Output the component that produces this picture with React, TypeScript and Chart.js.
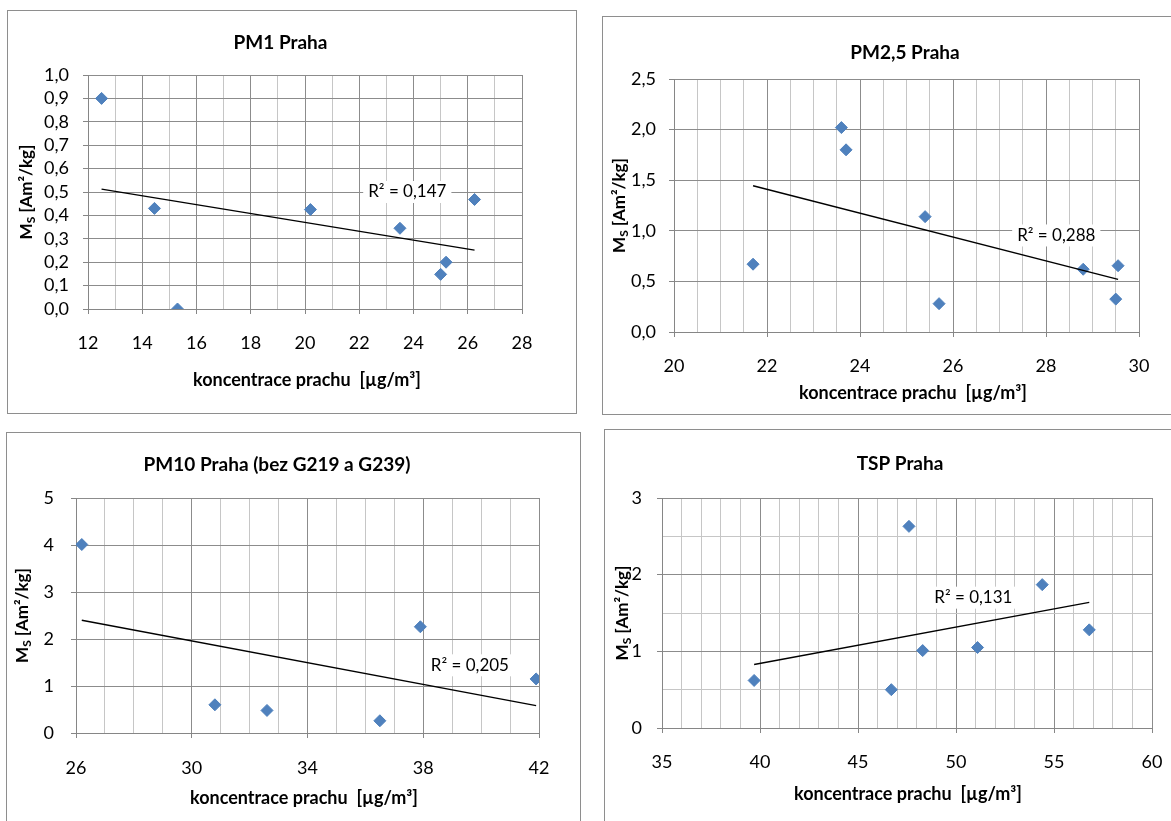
import React, { useEffect, useRef } from 'react';
import { Chart, registerables } from 'chart.js';

Chart.register(...registerables);

// Measured pairs: dust concentration [µg/m³] vs. saturation magnetisation Ms [Am²/kg]
const pm1Conc = [12.5, 14.45, 15.3, 20.2, 23.5, 25.0, 25.2, 26.25];
const pm1Ms = [0.9, 0.43, 0.0, 0.425, 0.345, 0.148, 0.2, 0.468];

const pm25Conc = [21.7, 23.6, 23.7, 25.4, 25.7, 28.8, 29.55, 29.5];
const pm25Ms = [0.67, 2.02, 1.8, 1.14, 0.28, 0.62, 0.655, 0.325];

const pm10Conc = [26.2, 30.8, 32.6, 36.5, 37.9, 41.9];
const pm10Ms = [4.01, 0.6, 0.48, 0.26, 2.26, 1.15];

const tspConc = [39.7, 46.7, 47.6, 48.3, 51.1, 54.4, 56.8];
const tspMs = [0.62, 0.5, 2.63, 1.01, 1.05, 1.87, 1.28];

const chartTitles = ['PM1 Praha', 'PM2,5 Praha', 'PM10 Praha (bez G219 a G239)', 'TSP Praha'];
const r2Labels = ['R² = 0,147', 'R² = 0,288', 'R² = 0,205', 'R² = 0,131'];
const xAxisTitle = 'koncentrace prachu  [µg/m³]';
const yAxisMain = 'M';
const yAxisSub = 'S';
const yAxisRest = ' [Am²/kg]';

const FONT = "Lato, 'Open Sans', sans-serif";
const MARKER = '#4f81bd';
const GRID_MAJOR = '#8c8c8c';
const GRID_MINOR = '#c6c6c6';
const AXIS = '#868686';
const FRAME = '#8e8e8e';

type AxisSpec = { min: number; max: number; step: number; every: number; dec: number; pad: number };
type Panel = {
  title: string;
  r2: string;
  xs: number[];
  ys: number[];
  box: { left: number; top: number; w: number; h: number };
  area: { yW: number; top: number; right: number; xH: number };
  x: AxisSpec;
  y: AxisSpec;
  titleAt: [number, number];
  xTitleAt: [number, number];
  yTitleX: number;
  r2At: [number, number];
};

const panels: Panel[] = [
  {
    title: chartTitles[0], r2: r2Labels[0], xs: pm1Conc, ys: pm1Ms,
    box: { left: 7, top: 10, w: 570, h: 404 },
    area: { yW: 81, top: 65, right: 55, xH: 105 },
    x: { min: 12, max: 28, step: 1, every: 2, dec: 0, pad: 18 },
    y: { min: 0, max: 1, step: 0.1, every: 0.1, dec: 1, pad: 14 },
    titleAt: [273.5, 33], xTitleAt: [300, 370], yTitleX: 19, r2At: [22.33, 0.5],
  },
  {
    title: chartTitles[1], r2: r2Labels[1], xs: pm25Conc, ys: pm25Ms,
    box: { left: 602, top: 16, w: 600, h: 399 },
    area: { yW: 72, top: 63, right: 63, xH: 83 },
    x: { min: 20, max: 30, step: 0.5, every: 2, dec: 0, pad: 18 },
    y: { min: 0, max: 2.5, step: 0.5, every: 0.5, dec: 1, pad: 13 },
    titleAt: [303, 37], xTitleAt: [311, 377], yTitleX: 17, r2At: [27.38, 0.954],
  },
  {
    title: chartTitles[2], r2: r2Labels[2], xs: pm10Conc, ys: pm10Ms,
    box: { left: 6, top: 432, w: 575, h: 400 },
    area: { yW: 70, top: 66, right: 42, xH: 99 },
    x: { min: 26, max: 42, step: 1, every: 4, dec: 0, pad: 19 },
    y: { min: 0, max: 5, step: 1, every: 1, dec: 0, pad: 17 },
    titleAt: [271, 33], xTitleAt: [298, 366], yTitleX: 16, r2At: [38.26, 1.44],
  },
  {
    title: chartTitles[3], r2: r2Labels[3], xs: tspConc, ys: tspMs,
    box: { left: 604, top: 429, w: 600, h: 400 },
    area: { yW: 58, top: 69, right: 52, xH: 101 },
    x: { min: 35, max: 60, step: 1, every: 5, dec: 0, pad: 18 },
    y: { min: 0, max: 3, step: 0.5, every: 1, dec: 0, pad: 15 },
    titleAt: [296, 35], xTitleAt: [304, 365], yTitleX: 18, r2At: [48.89, 1.7],
  },
];

// Least-squares line across the measured x range
function linearFit(xs: number[], ys: number[]) {
  const n = xs.length;
  const mx = xs.reduce((a, b) => a + b, 0) / n;
  const my = ys.reduce((a, b) => a + b, 0) / n;
  let sxy = 0;
  let sxx = 0;
  for (let i = 0; i < n; i++) {
    sxy += (xs[i] - mx) * (ys[i] - my);
    sxx += (xs[i] - mx) * (xs[i] - mx);
  }
  const b = sxy / sxx;
  const a = my - b * mx;
  const x0 = Math.min(...xs);
  const x1 = Math.max(...xs);
  return [
    { x: x0, y: a + b * x0 },
    { x: x1, y: a + b * x1 },
  ];
}

// Major ticks are counted from the axis minimum
const isMajor = (v: number, spec: AxisSpec) => {
  const k = (v - spec.min) / spec.every;
  return Math.abs(k - Math.round(k)) < 1e-6;
};

function axisOptions(spec: AxisSpec, isX: boolean, fixed: number) {
  return {
    type: 'linear' as const,
    position: isX ? 'bottom' : 'left',
    min: spec.min,
    max: spec.max,
    ticks: {
      stepSize: spec.step,
      autoSkip: false,
      maxRotation: 0,
      padding: spec.pad,
      color: '#000',
      font: { family: FONT, size: 18 },
      callback: (v: number) => (isMajor(v, spec) ? v.toFixed(spec.dec).replace('.', ',') : ''),
    },
    grid: {
      lineWidth: 1,
      tickLength: 5,
      color: (c: any) => (c.tick && isMajor(c.tick.value, spec) ? GRID_MAJOR : GRID_MINOR),
      tickColor: (c: any) => (c.tick && isMajor(c.tick.value, spec) ? AXIS : 'rgba(0,0,0,0)'),
    },
    border: { color: AXIS, width: 1 },
    afterFit: (scale: any) => {
      if (isX) scale.height = fixed;
      else scale.width = fixed;
    },
  };
}

function drawYTitle(ctx: CanvasRenderingContext2D, x: number, cy: number) {
  const big = `bold 17px ${FONT}`;
  const small = `bold 12px ${FONT}`;
  ctx.save();
  ctx.translate(x, cy);
  ctx.rotate(-Math.PI / 2);
  ctx.fillStyle = '#000';
  ctx.textAlign = 'left';
  ctx.textBaseline = 'alphabetic';
  ctx.font = big;
  const wM = ctx.measureText(yAxisMain).width;
  const wRest = ctx.measureText(yAxisRest).width;
  ctx.font = small;
  const wS = ctx.measureText(yAxisSub).width;
  let px = -(wM + wS + wRest) / 2;
  ctx.font = big;
  ctx.fillText(yAxisMain, px, 6);
  px += wM;
  ctx.font = small;
  ctx.fillText(yAxisSub, px, 9);
  px += wS;
  ctx.font = big;
  ctx.fillText(yAxisRest, px, 6);
  ctx.restore();
}

function makeDecor(p: Panel) {
  return {
    id: 'decor',
    beforeDraw(chart: any) {
      const { ctx, width, height } = chart;
      ctx.save();
      ctx.fillStyle = '#fff';
      ctx.fillRect(0, 0, width, height);
      ctx.strokeStyle = FRAME;
      ctx.lineWidth = 1;
      ctx.strokeRect(0.5, 0.5, width - 1, height - 1);
      ctx.restore();
    },
    afterDatasetsDraw(chart: any) {
      const { ctx, scales } = chart;
      const lx = scales.x.getPixelForValue(p.r2At[0]);
      const ly = scales.y.getPixelForValue(p.r2At[1]);
      ctx.save();
      ctx.font = `17px ${FONT}`;
      const w = ctx.measureText(p.r2).width;
      ctx.fillStyle = '#fff';
      ctx.fillRect(lx - 5, ly - 11, w + 10, 22);
      ctx.fillStyle = '#000';
      ctx.textAlign = 'left';
      ctx.textBaseline = 'middle';
      ctx.fillText(p.r2, lx, ly);
      ctx.restore();
    },
    afterDraw(chart: any) {
      const { ctx, chartArea } = chart;
      ctx.save();
      ctx.fillStyle = '#000';
      ctx.textAlign = 'center';
      ctx.textBaseline = 'middle';
      ctx.font = `bold 19px ${FONT}`;
      ctx.fillText(p.title, p.titleAt[0], p.titleAt[1]);
      ctx.font = `bold 18px ${FONT}`;
      ctx.fillText(xAxisTitle, p.xTitleAt[0], p.xTitleAt[1]);
      ctx.restore();
      drawYTitle(ctx, p.yTitleX, (chartArea.top + chartArea.bottom) / 2);
    },
  };
}

function ScatterPanel({ p }: { p: Panel }) {
  const ref = useRef<HTMLCanvasElement>(null);
  useEffect(() => {
    const points = p.xs.map((x, i) => ({ x, y: p.ys[i] }));
    const chart = new Chart(ref.current as HTMLCanvasElement, {
      type: 'scatter',
      data: {
        datasets: [
          {
            data: linearFit(p.xs, p.ys),
            showLine: true,
            borderColor: '#000',
            borderWidth: 1.4,
            pointRadius: 0,
            order: 0,
          } as any,
          {
            data: points,
            pointStyle: 'rectRot',
            pointRadius: 6,
            backgroundColor: MARKER,
            borderColor: MARKER,
            borderWidth: 1,
            order: 1,
          },
        ],
      },
      options: {
        responsive: false,
        animation: false,
        devicePixelRatio: 1,
        events: [],
        layout: { padding: { left: 0, top: p.area.top, right: p.area.right, bottom: 0 } },
        plugins: { legend: { display: false }, tooltip: { enabled: false }, title: { display: false } },
        scales: {
          x: axisOptions(p.x, true, p.area.xH) as any,
          y: axisOptions(p.y, false, p.area.yW) as any,
        },
      },
      plugins: [makeDecor(p)],
    });
    return () => chart.destroy();
  }, [p]);
  return (
    <canvas
      ref={ref}
      width={p.box.w}
      height={p.box.h}
      style={{ position: 'absolute', left: p.box.left, top: p.box.top, width: p.box.w, height: p.box.h }}
    />
  );
}

export default function App() {
  return (
    <div
      style={{
        position: 'absolute',
        left: 0,
        top: 0,
        width: 1171,
        height: 821,
        overflow: 'hidden',
        background: '#fff',
      }}
    >
      {panels.map((p, i) => (
        <ScatterPanel key={i} p={p} />
      ))}
    </div>
  );
}
